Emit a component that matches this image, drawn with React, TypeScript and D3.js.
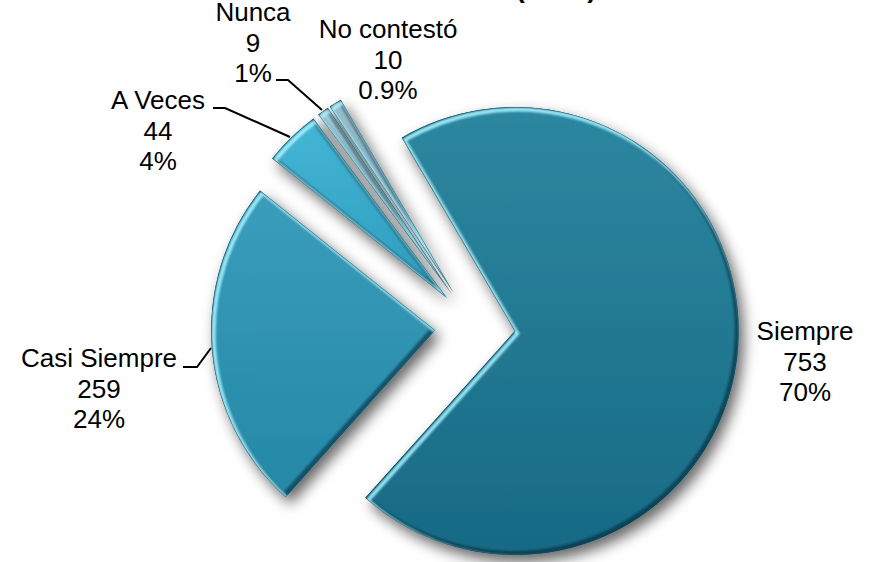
import React from "react";
import * as d3 from "d3";

const categories = ["Siempre", "Casi Siempre", "A Veces", "Nunca", "No contestó"];
const counts = [753, 259, 44, 9, 10];
const percentLabels = ["70%", "24%", "4%", "1%", "0.9%"];
const titleText = "(1075)";

const W = 875;
const H = 562;
const CX = 475;
const CY = 327;
const R = 224;
const EXPLODE = 40;
const START_DEG = -30.3;

const gradients = [
  ["#2d87a0", "#176a84"],
  ["#3a9dbb", "#2488a7"],
  ["#45b6d6", "#2c9cbd"],
  ["#a9cfdd", "#7fa9bb"],
  ["#9bbccb", "#6f95a8"],
];

// label layout: [x, firstBaseline]
const labelPos: [number, number][] = [
  [805, 340],
  [99, 367],
  [158, 109],
  [253, 21],
  [388, 38],
];
const LINE_H = 30.5;

// leader polylines (screen coords) per label; null = none
const leaders: ([number, number][] | null)[] = [
  null,
  [[183, 367], [197, 367], [211, 348]],
  [[213, 108], [225, 108], [290, 137]],
  [[276, 80], [288, 80], [322, 110]],
  null,
];

export default function App() {
  const pie = d3
    .pie<number>()
    .sort(null)
    .value((d) => d)
    .startAngle((START_DEG * Math.PI) / 180)
    .endAngle(((START_DEG + 360) * Math.PI) / 180);
  const arcs = pie(counts);
  const arcGen = d3.arc<d3.PieArcDatum<number>>().innerRadius(0).outerRadius(R);

  return (
    <svg
      width={W}
      height={H}
      style={{ position: "absolute", left: 0, top: 0, display: "block", background: "#fff" }}
      fontFamily="'Liberation Sans', Arial, sans-serif"
    >
      <defs>
        {gradients.map((g, i) => (
          <linearGradient key={i} id={`g${i}`} x1="0" y1="0" x2="0" y2="1">
            <stop offset="0%" stopColor={g[0]} />
            <stop offset="100%" stopColor={g[1]} />
          </linearGradient>
        ))}
        <filter id="shadow" x="-30%" y="-30%" width="160%" height="160%">
          <feDropShadow dx="5" dy="7" stdDeviation="7" floodColor="#000" floodOpacity="0.6" />
        </filter>
        <filter id="soft" x="-10%" y="-10%" width="120%" height="120%">
          <feGaussianBlur stdDeviation="1.2" />
        </filter>
        {arcs.map((a, i) => (
          <clipPath key={i} id={`c${i}`}>
            <path d={arcGen(a) || ""} />
          </clipPath>
        ))}
      </defs>

      <text x={556} y={-3} textAnchor="middle" fontSize={28} fontWeight="bold" fill="#000">
        {titleText}
      </text>

      <g transform={`translate(${CX},${CY})`}>
        {arcs.map((a, i) => {
          const mid = (a.startAngle + a.endAngle) / 2;
          const dx = Math.sin(mid) * EXPLODE;
          const dy = -Math.cos(mid) * EXPLODE;
          const d = arcGen(a) || "";
          return (
            <g key={i} transform={`translate(${dx},${dy})`}>
              <path d={d} fill={`url(#g${i})`} filter="url(#shadow)" />
              <g clipPath={`url(#c${i})`}>
                <path
                  d={d}
                  fill="none"
                  stroke="rgba(0,30,45,0.55)"
                  strokeWidth={5}
                  transform="translate(-1.5,-1.5)"
                  filter="url(#soft)"
                />
                <path
                  d={d}
                  fill="none"
                  stroke="#a8f2ff"
                  strokeWidth={4}
                  transform="translate(2.5,2.5)"
                  filter="url(#soft)"
                  opacity={0.9}
                />
                <path d={d} fill="none" stroke="rgba(0,40,60,0.5)" strokeWidth={1.2} />
              </g>
            </g>
          );
        })}
      </g>

      {leaders.map((pts, i) =>
        pts ? (
          <polyline
            key={i}
            points={pts.map((p) => p.join(",")).join(" ")}
            fill="none"
            stroke="#000"
            strokeWidth={2}
          />
        ) : null
      )}

      {categories.map((c, i) => {
        const [x, y] = labelPos[i];
        return (
          <text key={c} x={x} y={y} textAnchor="middle" fontSize={26} fill="#000">
            <tspan x={x} y={y}>{c}</tspan>
            <tspan x={x} y={y + LINE_H}>{counts[i]}</tspan>
            <tspan x={x} y={y + 2 * LINE_H}>{percentLabels[i]}</tspan>
          </text>
        );
      })}
    </svg>
  );
}
